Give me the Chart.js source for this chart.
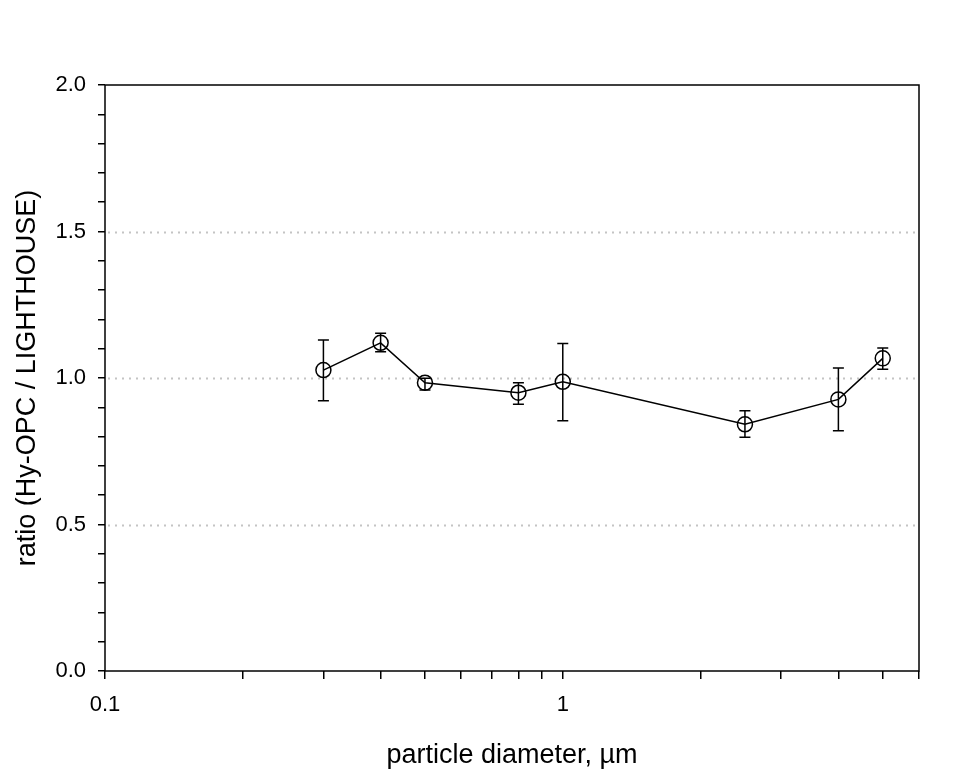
<!DOCTYPE html>
<html>
<head>
<meta charset="utf-8">
<script src="https://cdn.jsdelivr.net/npm/chart.js@4.4.1/dist/chart.umd.min.js"></script>
<style>
  html,body{margin:0;padding:0;background:#fff;}
  #wrap{width:964px;height:773px;}
</style>
</head>
<body>
<div id="wrap"><canvas id="chart" width="964" height="773"></canvas></div>
<script>
// particle diameter (um) and ratio Hy-OPC / LIGHTHOUSE
const diameters = [0.3, 0.4, 0.5, 0.8, 1, 2.5, 4, 5];
const ratios    = [1.027, 1.120, 0.984, 0.950, 0.987, 0.842, 0.927, 1.067];
const errHigh   = [1.130, 1.153, 0.999, 0.984, 1.118, 0.888, 1.034, 1.102];
const errLow    = [0.922, 1.090, 0.959, 0.910, 0.854, 0.798, 0.820, 1.030];

const xTicks = [0.1,0.2,0.3,0.4,0.5,0.6,0.7,0.8,0.9,1,2,3,4,5,6];
const xLabels = {0.1:'0.1', 1:'1'};
const gridValues = [0.5, 1.0, 1.5];

const FONT = "'Liberation Sans', Arial, sans-serif";

const extras = {
  id:'extras',
  beforeDatasetsDraw(chart){
    const {ctx, chartArea:a, scales:{x,y}} = chart;
    ctx.save();
    // dotted horizontal grid
    ctx.strokeStyle = '#c4c4c4';
    ctx.lineWidth = 2;
    ctx.setLineDash([2,5]);
    gridValues.forEach(v=>{
      const py = Math.round(y.getPixelForValue(v))+0.5;
      ctx.beginPath(); ctx.moveTo(a.left+3, py); ctx.lineTo(a.right, py); ctx.stroke();
    });
    ctx.setLineDash([]);
    // error bars
    ctx.strokeStyle = '#000';
    ctx.lineWidth = 1.5;
    diameters.forEach((d,i)=>{
      const px = x.getPixelForValue(d);
      const top = y.getPixelForValue(errHigh[i]);
      const bot = y.getPixelForValue(errLow[i]);
      ctx.beginPath();
      ctx.moveTo(px, top); ctx.lineTo(px, bot);
      ctx.moveTo(px-5.5, top); ctx.lineTo(px+5.5, top);
      ctx.moveTo(px-5.5, bot); ctx.lineTo(px+5.5, bot);
      ctx.stroke();
    });
    ctx.restore();
  },
  afterDraw(chart){
    const {ctx, chartArea:a} = chart;
    ctx.save();
    ctx.strokeStyle = '#000';
    ctx.lineWidth = 1.5;
    ctx.strokeRect(a.left, a.top, a.right-a.left, a.bottom-a.top);
    ctx.restore();
  }
};

new Chart(document.getElementById('chart'), {
  type:'scatter',
  data:{
    datasets:[{
      data: diameters.map((d,i)=>({x:d, y:ratios[i]})),
      showLine:true,
      borderColor:'#000',
      borderWidth:1.5,
      pointRadius:7.5,
      pointBorderWidth:1.5,
      pointBorderColor:'#000',
      pointBackgroundColor:'rgba(0,0,0,0)',
      pointStyle:'circle',
      tension:0
    }]
  },
  options:{
    responsive:false,
    animation:false,
    layout:{padding:{top:85, right:45, left:0, bottom:0}},
    plugins:{legend:{display:false}, tooltip:{enabled:false}},
    scales:{
      x:{
        type:'logarithmic',
        min:0.1, max:6,
        afterBuildTicks(s){ s.ticks = xTicks.map(v=>({value:v})); },
        afterFit(s){ s.height = 102; },
        ticks:{
          autoSkip:false, maxRotation:0, padding:13,
          color:'#000', font:{family:FONT, size:22},
          callback:(v)=> xLabels[v] || ''
        },
        grid:{drawOnChartArea:false, drawTicks:true, tickLength:8, color:'#000', lineWidth:1.5},
        border:{display:false},
        title:{display:true, text:'particle diameter, \u00b5m', color:'#000',
          font:{family:FONT, size:27}, padding:{top:0, bottom:1}}
      },
      y:{
        min:0, max:2,
        afterFit(s){ s.width = 105; },
        ticks:{
          stepSize:0.1, autoSkip:false, padding:12,
          color:'#000', font:{family:FONT, size:22},
          callback:(v)=> Math.abs(v*2-Math.round(v*2))<1e-6 ? Number(v).toFixed(1) : ''
        },
        grid:{drawOnChartArea:false, drawTicks:true, tickLength:7, color:'#000', lineWidth:1.5},
        border:{display:false},
        title:{display:true, text:'ratio (Hy-OPC / LIGHTHOUSE)', color:'#000',
          font:{family:FONT, size:27}, padding:{top:11, bottom:0}}
      }
    }
  },
  plugins:[extras]
});
</script>
</body>
</html>
